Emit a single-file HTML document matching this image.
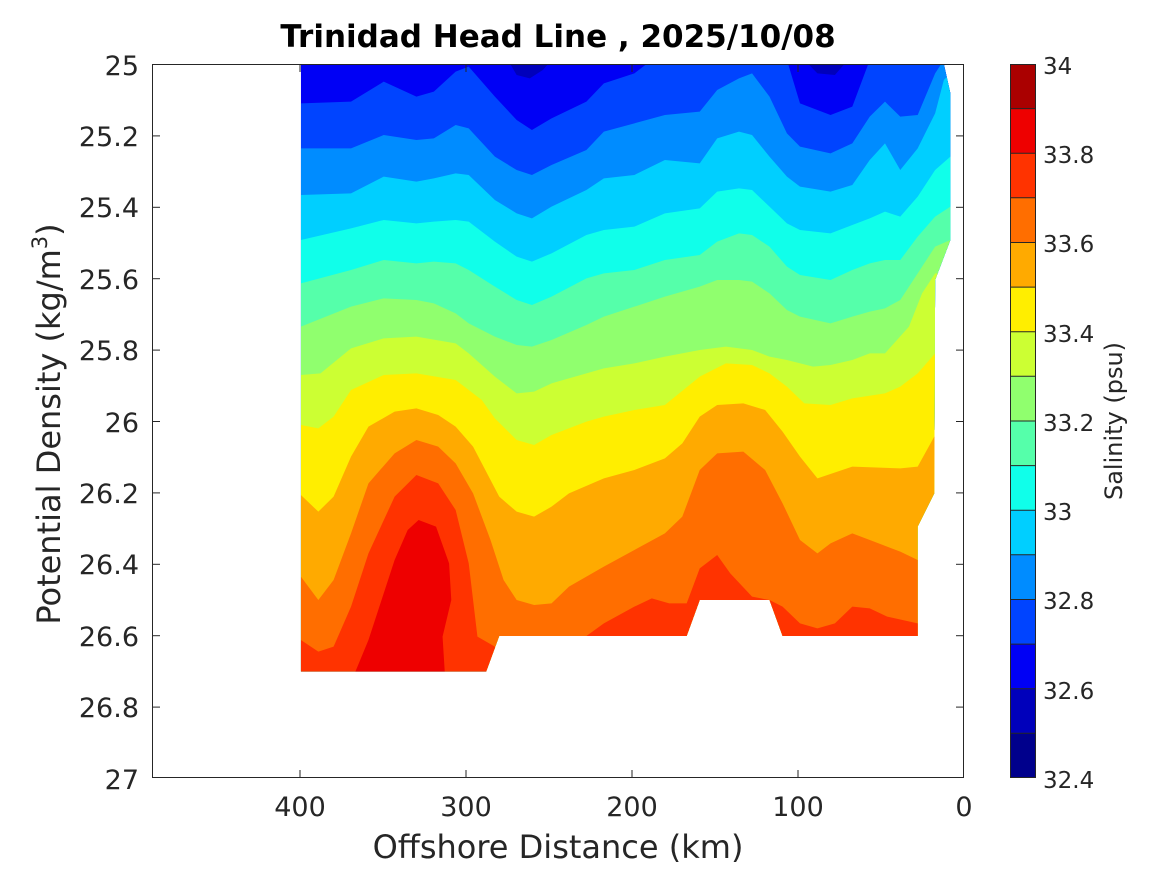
<!DOCTYPE html>
<html><head><meta charset="utf-8"><style>
body{margin:0;background:#fff;}
svg{display:block;font-family:"DejaVu Sans","Liberation Sans",sans-serif;}
</style></head><body>
<svg width="1167" height="875" viewBox="0 0 1167 875" xmlns="http://www.w3.org/2000/svg">
<defs>
<clipPath id="dc"><polygon points="25,12 1500,12 1515,100 1515,540 1480,660 1478,1300 1440,1400 1440,1728 1130,1728 1100,1620 940,1620 910,1728 480,1728 450,1835 25,1835"/></clipPath>
</defs>
<g transform="translate(290,60) scale(0.4359,0.33333)" clip-path="url(#dc)">
<rect x="0" y="0" width="1600" height="2000" fill="#0000BB"/>
<polygon fill="#0000F5" points="0,0 500,0 520,45 550,55 580,30 600,0 1180,0 1210,40 1250,45 1280,0 1600,0 1600,2100 0,2100"/>
<polygon fill="#0044FF" points="0,130 25,130 140,125 215,65 290,110 330,95 380,35 410,20 470,110 520,180 555,210 600,175 680,125 720,70 790,40 830,0 1140,0 1170,130 1240,165 1290,140 1330,0 1600,0 1600,2100 0,2100"/>
<polygon fill="#008CFF" points="0,265 25,265 140,265 215,225 290,240 330,235 380,195 410,205 470,290 520,330 555,345 600,315 680,270 720,215 790,190 860,165 940,155 980,90 1030,55 1060,40 1100,110 1140,220 1170,260 1240,280 1290,250 1330,170 1365,125 1400,170 1440,165 1480,40 1500,0 1600,0 1600,2100 0,2100"/>
<polygon fill="#00CFFF" points="0,405 25,405 140,400 215,350 290,365 330,355 380,340 410,345 470,420 520,460 555,475 600,440 680,390 720,355 790,345 860,300 940,310 980,235 1030,215 1060,225 1100,290 1140,350 1170,380 1240,395 1290,375 1330,300 1365,250 1400,330 1440,265 1480,160 1500,60 1515,40 1600,40 1600,2100 0,2100"/>
<polygon fill="#10FFEA" points="0,540 25,540 140,505 215,480 290,490 330,485 380,480 410,485 470,545 520,590 555,605 600,580 680,525 720,510 790,500 860,460 940,445 980,395 1030,385 1060,390 1100,440 1140,490 1170,510 1240,520 1290,495 1330,475 1365,455 1400,470 1440,410 1480,330 1515,290 1600,290 1600,2100 0,2100"/>
<polygon fill="#55FFAA" points="0,670 25,670 140,630 215,600 290,610 330,605 380,610 410,630 470,680 520,720 555,735 600,710 680,655 720,640 790,630 860,600 940,585 980,545 1030,520 1060,525 1100,560 1140,620 1170,645 1240,660 1290,630 1330,610 1365,600 1400,600 1440,530 1480,470 1515,440 1600,440 1600,2100 0,2100"/>
<polygon fill="#90FF6E" points="0,800 25,800 140,740 215,715 290,720 330,730 380,760 410,790 470,830 520,855 555,860 600,840 680,795 720,770 790,740 860,710 940,680 980,660 1030,660 1060,665 1100,700 1140,750 1170,770 1240,790 1290,770 1330,755 1365,745 1400,720 1440,640 1480,560 1515,540 1600,540 1600,2100 0,2100"/>
<polygon fill="#CCFF33" points="0,945 25,945 70,940 140,865 215,835 290,830 380,850 410,880 470,950 520,1000 560,995 600,970 680,940 720,925 790,910 860,890 940,870 1000,860 1060,870 1100,890 1140,900 1200,920 1240,915 1290,900 1330,880 1365,880 1420,800 1450,700 1480,640 1600,640 1600,2100 0,2100"/>
<polygon fill="#FFEE00" points="0,1095 25,1095 65,1105 100,1070 140,990 215,945 290,940 380,960 440,1020 470,1075 520,1140 560,1155 600,1125 680,1085 720,1070 790,1050 860,1035 940,950 1000,910 1060,915 1100,940 1140,980 1180,1030 1240,1035 1290,1015 1365,1000 1400,980 1440,940 1480,880 1600,880 1600,2100 0,2100"/>
<polygon fill="#FFAA00" points="0,1305 25,1305 65,1355 100,1310 140,1190 180,1100 240,1055 290,1045 340,1065 380,1100 420,1160 480,1310 520,1355 560,1370 600,1340 640,1300 720,1255 790,1230 860,1195 900,1150 940,1070 980,1035 1040,1030 1090,1050 1130,1115 1170,1190 1210,1255 1290,1220 1400,1225 1440,1220 1478,1130 1600,1130 1600,2100 0,2100"/>
<polygon fill="#FF6E00" points="0,1550 25,1550 65,1620 100,1560 140,1420 180,1270 240,1180 290,1140 340,1160 380,1210 420,1300 460,1440 490,1560 520,1620 560,1635 600,1630 640,1580 720,1520 790,1470 860,1420 900,1370 940,1230 980,1180 1040,1175 1090,1230 1130,1330 1170,1440 1210,1480 1240,1450 1290,1420 1340,1445 1400,1475 1440,1500 1600,1500 1600,2100 0,2100"/>
<polygon fill="#FF3300" points="0,1740 25,1740 65,1775 100,1760 140,1640 180,1480 240,1310 290,1245 340,1270 380,1350 410,1510 430,1730 470,1760 480,1900 670,1900 680,1728 720,1690 790,1640 830,1615 870,1630 910,1630 940,1525 980,1485 1010,1540 1060,1610 1100,1620 1130,1640 1170,1690 1210,1705 1250,1690 1290,1640 1330,1645 1370,1670 1440,1690 1600,1690 1600,2100 0,2100"/>
<polygon fill="#EE0000" points="140,2000 150,1835 180,1740 210,1620 240,1500 270,1410 295,1380 335,1400 365,1510 370,1620 350,1730 355,1835 360,2000"/>
</g>
<rect x="152.5" y="64.5" width="811" height="713" fill="none" stroke="#262626" stroke-width="1"/>
<g stroke="#262626" stroke-width="1">
<line x1="152" y1="135.9" x2="160" y2="135.9"/><line x1="964" y1="135.9" x2="956" y2="135.9"/>
<line x1="152" y1="207.3" x2="160" y2="207.3"/><line x1="964" y1="207.3" x2="956" y2="207.3"/>
<line x1="152" y1="278.7" x2="160" y2="278.7"/><line x1="964" y1="278.7" x2="956" y2="278.7"/>
<line x1="152" y1="350.1" x2="160" y2="350.1"/><line x1="964" y1="350.1" x2="956" y2="350.1"/>
<line x1="152" y1="421.5" x2="160" y2="421.5"/><line x1="964" y1="421.5" x2="956" y2="421.5"/>
<line x1="152" y1="492.9" x2="160" y2="492.9"/><line x1="964" y1="492.9" x2="956" y2="492.9"/>
<line x1="152" y1="564.3" x2="160" y2="564.3"/><line x1="964" y1="564.3" x2="956" y2="564.3"/>
<line x1="152" y1="635.7" x2="160" y2="635.7"/><line x1="964" y1="635.7" x2="956" y2="635.7"/>
<line x1="152" y1="707.1" x2="160" y2="707.1"/><line x1="964" y1="707.1" x2="956" y2="707.1"/>
<line x1="300" y1="778" x2="300" y2="770"/><line x1="300" y1="64" x2="300" y2="72"/>
<line x1="466" y1="778" x2="466" y2="770"/><line x1="466" y1="64" x2="466" y2="72"/>
<line x1="632" y1="778" x2="632" y2="770"/><line x1="632" y1="64" x2="632" y2="72"/>
<line x1="798" y1="778" x2="798" y2="770"/><line x1="798" y1="64" x2="798" y2="72"/>
</g>
<g font-size="27" fill="#262626" text-anchor="end">
<text x="139" y="75">25</text><text x="139" y="146">25.2</text><text x="139" y="217">25.4</text>
<text x="139" y="289">25.6</text><text x="139" y="360">25.8</text><text x="139" y="432">26</text>
<text x="139" y="503">26.2</text><text x="139" y="574">26.4</text><text x="139" y="646">26.6</text>
<text x="139" y="717">26.8</text><text x="139" y="789">27</text>
</g>
<g font-size="27" fill="#262626" text-anchor="middle">
<text x="300" y="816">400</text><text x="466" y="816">300</text><text x="632" y="816">200</text>
<text x="798" y="816">100</text><text x="964" y="816">0</text>
<text x="558" y="858" font-size="32">Offshore Distance (km)</text>
<text x="558" y="47" font-size="31" font-weight="bold" fill="#000">Trinidad Head Line , 2025/10/08</text>
</g>
<text transform="translate(60,424) rotate(-90)" font-size="32" fill="#262626" text-anchor="middle">Potential Density (kg/m<tspan font-size="21" dy="-13">3</tspan><tspan dy="13">)</tspan></text>
<g>
<rect x="1010" y="64" width="26" height="44.7" fill="#AA0000"/>
<rect x="1010" y="108.6" width="26" height="44.7" fill="#EE0000"/>
<rect x="1010" y="153.2" width="26" height="44.7" fill="#FF3300"/>
<rect x="1010" y="197.8" width="26" height="44.7" fill="#FF6E00"/>
<rect x="1010" y="242.5" width="26" height="44.7" fill="#FFAA00"/>
<rect x="1010" y="287.1" width="26" height="44.7" fill="#FFEE00"/>
<rect x="1010" y="331.7" width="26" height="44.7" fill="#CCFF33"/>
<rect x="1010" y="376.3" width="26" height="44.7" fill="#90FF6E"/>
<rect x="1010" y="421" width="26" height="44.7" fill="#55FFAA"/>
<rect x="1010" y="465.6" width="26" height="44.7" fill="#10FFEA"/>
<rect x="1010" y="510.2" width="26" height="44.7" fill="#00CFFF"/>
<rect x="1010" y="554.8" width="26" height="44.7" fill="#008CFF"/>
<rect x="1010" y="599.5" width="26" height="44.7" fill="#0044FF"/>
<rect x="1010" y="644.1" width="26" height="44.7" fill="#0000F5"/>
<rect x="1010" y="688.7" width="26" height="44.7" fill="#0000BB"/>
<rect x="1010" y="733.3" width="26" height="44.7" fill="#00008C"/>
<g stroke="#262626" stroke-width="1">
<line x1="1010" y1="108.6" x2="1036" y2="108.6"/><line x1="1010" y1="153.2" x2="1036" y2="153.2"/>
<line x1="1010" y1="197.8" x2="1036" y2="197.8"/><line x1="1010" y1="242.5" x2="1036" y2="242.5"/>
<line x1="1010" y1="287.1" x2="1036" y2="287.1"/><line x1="1010" y1="331.7" x2="1036" y2="331.7"/>
<line x1="1010" y1="376.3" x2="1036" y2="376.3"/><line x1="1010" y1="421" x2="1036" y2="421"/>
<line x1="1010" y1="465.6" x2="1036" y2="465.6"/><line x1="1010" y1="510.2" x2="1036" y2="510.2"/>
<line x1="1010" y1="554.8" x2="1036" y2="554.8"/><line x1="1010" y1="599.5" x2="1036" y2="599.5"/>
<line x1="1010" y1="644.1" x2="1036" y2="644.1"/><line x1="1010" y1="688.7" x2="1036" y2="688.7"/>
<line x1="1010" y1="733.3" x2="1036" y2="733.3"/>
</g>
<rect x="1010.5" y="64.5" width="25" height="713" fill="none" stroke="#262626"/>
</g>
<g font-size="23" fill="#262626">
<text x="1043" y="74">34</text><text x="1043" y="163">33.8</text><text x="1043" y="252">33.6</text>
<text x="1043" y="342">33.4</text><text x="1043" y="431">33.2</text><text x="1043" y="520">33</text>
<text x="1043" y="609">32.8</text><text x="1043" y="699">32.6</text><text x="1043" y="788">32.4</text>
</g>
<text transform="translate(1122,421) rotate(-90)" font-size="24" fill="#262626" text-anchor="middle">Salinity (psu)</text>
</svg>
</body></html>
